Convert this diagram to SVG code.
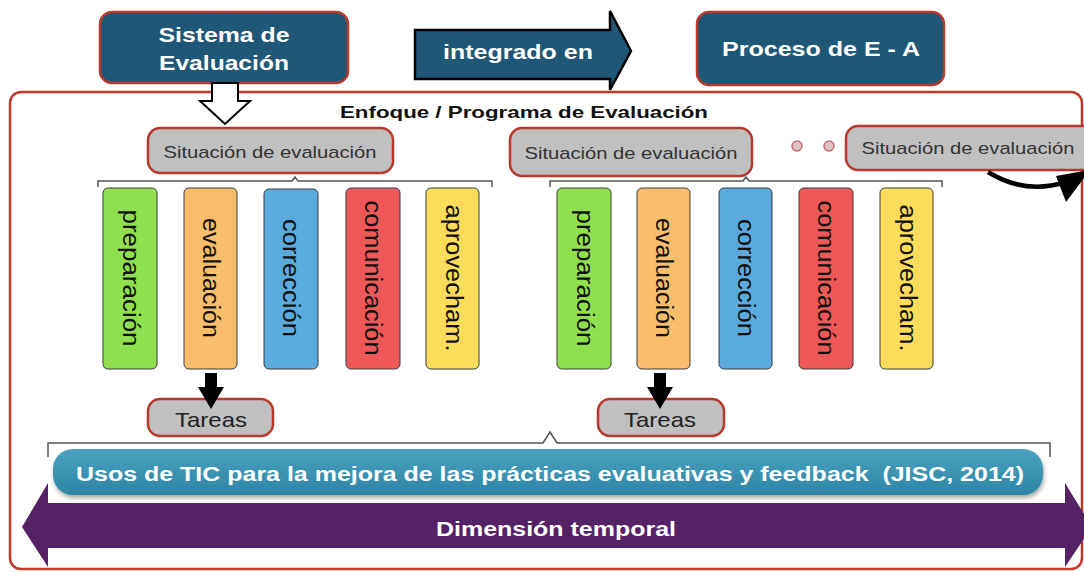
<svg xmlns="http://www.w3.org/2000/svg" width="1084" height="572" viewBox="0 0 1084 572">
<defs>
<style>
.dark{fill:#1f5777;stroke:#b8382c;stroke-width:2.5}
.hd{font-family:"Liberation Sans",Arial,sans-serif;font-weight:bold;fill:#fff;text-anchor:middle}
.sit{fill:#c0c0c0;stroke:#b8382c;stroke-width:2.5}
.st{font-family:"Liberation Sans",Arial,sans-serif;font-size:17px;fill:#333;text-anchor:middle}
.bar{stroke:#3a3a3a;stroke-width:1}
.bt{font-family:"Liberation Sans",Arial,sans-serif;font-size:23px;fill:#111;text-anchor:middle}
.brk{fill:none;stroke:#555;stroke-width:1.5}
.tt{font-family:"Liberation Sans",Arial,sans-serif;font-size:21px;fill:#222;text-anchor:middle}
</style>
<linearGradient id="tic" x1="0" y1="0" x2="0" y2="1">
<stop offset="0" stop-color="#4aa2c0"/>
<stop offset="1" stop-color="#2e84a4"/>
</linearGradient>
<filter id="sh" x="-5%" y="-20%" width="110%" height="150%">
<feDropShadow dx="1" dy="3" stdDeviation="2" flood-color="#000" flood-opacity="0.35"/>
</filter>
</defs>
<rect width="1084" height="572" fill="#fff"/>

<g id="container">
<rect x="10" y="92" width="1072" height="477" rx="11" fill="none" stroke="#c0392b" stroke-width="2.5"/>
<text x="524" y="118" font-family="'Liberation Sans',Arial,sans-serif" font-size="17" font-weight="bold" fill="#111" text-anchor="middle" textLength="368" lengthAdjust="spacingAndGlyphs">Enfoque / Programa de Evaluación</text>
</g>

<g id="sistema">
<rect class="dark" x="100" y="12" width="248" height="71" rx="12"/>
<text class="hd" x="224" y="42" font-size="21" textLength="131" lengthAdjust="spacingAndGlyphs">Sistema de</text>
<text class="hd" x="224" y="70" font-size="21" textLength="130" lengthAdjust="spacingAndGlyphs">Evaluación</text>
</g>

<g id="integrado">
<polygon points="415,30 610,30 610,11 631,51 610,90 610,79 415,79" fill="#1f5777" stroke="#000" stroke-width="2.5" stroke-linejoin="miter"/>
<text class="hd" x="518" y="59" font-size="21" textLength="150" lengthAdjust="spacingAndGlyphs">integrado en</text>
</g>

<g id="proceso">
<rect class="dark" x="697" y="12" width="247" height="73" rx="12"/>
<text class="hd" x="821" y="56" font-size="21" textLength="198" lengthAdjust="spacingAndGlyphs">Proceso de E - A</text>
</g>

<g id="situacion1">
<rect class="sit" x="148" y="128" width="245" height="45" rx="12"/>
<text class="st" x="270" y="158" textLength="213" lengthAdjust="spacingAndGlyphs">Situación de evaluación</text>
</g>
<g id="situacion2">
<rect class="sit" x="510" y="128" width="242" height="48" rx="12"/>
<text class="st" x="631" y="159" textLength="213" lengthAdjust="spacingAndGlyphs">Situación de evaluación</text>
</g>
<g id="situacion3">
<rect class="sit" x="846" y="126" width="250" height="44" rx="12"/>
<text class="st" x="968" y="154" textLength="213" lengthAdjust="spacingAndGlyphs">Situación de evaluación</text>
</g>

<g id="fases1">
<rect class="bar" x="103" y="188" width="54" height="181" rx="5" fill="#8fdf4e"/>
<rect class="bar" x="184" y="188" width="53" height="181" rx="5" fill="#f7bd6b"/>
<rect class="bar" x="264" y="189" width="54" height="180" rx="5" fill="#5aaade"/>
<rect class="bar" x="346" y="188" width="54" height="181" rx="5" fill="#ef5858"/>
<rect class="bar" x="426" y="188" width="53" height="181" rx="5" fill="#fcdc5a"/>
<text class="bt" transform="translate(130,278) rotate(90)" y="7" textLength="137" lengthAdjust="spacingAndGlyphs">preparación</text>
<text class="bt" transform="translate(210.5,278) rotate(90)" y="8" textLength="120" lengthAdjust="spacingAndGlyphs">evaluación</text>
<text class="bt" transform="translate(291,278) rotate(90)" y="8" textLength="118" lengthAdjust="spacingAndGlyphs">corrección</text>
<text class="bt" transform="translate(373,278) rotate(90)" y="8" textLength="155" lengthAdjust="spacingAndGlyphs">comunicación</text>
<text class="bt" transform="translate(452.5,278) rotate(90)" y="7" textLength="147" lengthAdjust="spacingAndGlyphs">aprovecham.</text>
</g>

<g id="fases2">
<rect class="bar" x="557" y="188" width="54" height="181" rx="5" fill="#8fdf4e"/>
<rect class="bar" x="637" y="188" width="53" height="181" rx="5" fill="#f7bd6b"/>
<rect class="bar" x="719" y="188" width="53" height="181" rx="5" fill="#5aaade"/>
<rect class="bar" x="799" y="188" width="54" height="181" rx="5" fill="#ef5858"/>
<rect class="bar" x="880" y="188" width="53" height="181" rx="5" fill="#fcdc5a"/>
<text class="bt" transform="translate(584,278) rotate(90)" y="7" textLength="137" lengthAdjust="spacingAndGlyphs">preparación</text>
<text class="bt" transform="translate(663.5,278) rotate(90)" y="8" textLength="120" lengthAdjust="spacingAndGlyphs">evaluación</text>
<text class="bt" transform="translate(745.5,278) rotate(90)" y="8" textLength="118" lengthAdjust="spacingAndGlyphs">corrección</text>
<text class="bt" transform="translate(826,278) rotate(90)" y="8" textLength="155" lengthAdjust="spacingAndGlyphs">comunicación</text>
<text class="bt" transform="translate(906.5,278) rotate(90)" y="7" textLength="147" lengthAdjust="spacingAndGlyphs">aprovecham.</text>
</g>

<g id="tareas1">
<rect class="sit" x="148" y="399" width="125" height="37" rx="12"/>
<text class="tt" x="211" y="427" textLength="72" lengthAdjust="spacingAndGlyphs">Tareas</text>
</g>
<g id="tareas2">
<rect class="sit" x="598" y="399" width="126" height="37" rx="12"/>
<text class="tt" x="660" y="427" textLength="72" lengthAdjust="spacingAndGlyphs">Tareas</text>
</g>

<g id="connectors">
<polygon points="212,83 238,83 238,101 250,101 225,124 200,101 212,101" fill="#fff" stroke="#000" stroke-width="2"/>
<path class="brk" d="M98,187 V181 H292 L295,177 L298,181 H492 V187"/>
<path class="brk" d="M550,187 V181 H743 L746,177 L749,181 H942 V187"/>
<path class="brk" d="M48,457 V443 H543 L550,432 L557,443 H1050 V457"/>
<polygon points="205,373 217,373 217,387 224,387 211,409 198,387 205,387" fill="#000"/>
<polygon points="654,373 666,373 666,387 673,387 660,409 647,387 654,387" fill="#000"/>
<path d="M988,172 Q1025,195 1066,182" fill="none" stroke="#000" stroke-width="4.5"/>
<polygon points="1056,176 1090,170 1066,202" fill="#000"/>
<circle cx="797" cy="146" r="5" fill="#e0c4c4" stroke="#c07070" stroke-width="1.5"/>
<circle cx="829" cy="146" r="5" fill="#e0c4c4" stroke="#c07070" stroke-width="1.5"/>
</g>

<g id="tic">
<rect x="53" y="449" width="990" height="46" rx="20" fill="url(#tic)" filter="url(#sh)"/>
<text class="hd" x="550" y="481" font-size="20" textLength="948" lengthAdjust="spacingAndGlyphs" style="white-space:pre">Usos de TIC para la mejora de las prácticas evaluativas y feedback  (JISC, 2014)</text>
</g>

<g id="dimension">
<polygon points="22,527 48,483 48,503 1065,503 1065,483 1092,527 1065,567 1065,548 48,548 48,567" fill="#552265"/>
<text class="hd" x="556" y="536" font-size="20" textLength="240" lengthAdjust="spacingAndGlyphs">Dimensión temporal</text>
</g>
</svg>
